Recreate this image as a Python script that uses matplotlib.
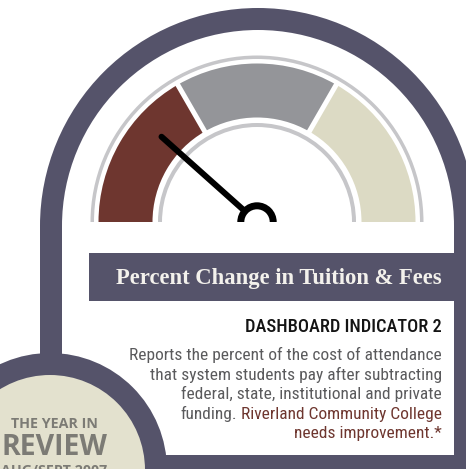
import matplotlib
matplotlib.use("Agg")
import matplotlib.pyplot as plt
from matplotlib.patches import Wedge, Rectangle, Circle
from matplotlib import font_manager as fm
import numpy as np

W, H = 466, 469

# ---- data ----
segment_labels = ["Needs improvement", "Meets goal", "Exceeds goal"]
segment_colors = ["#6e362f", "#949599", "#dcdac4"]
segment_bounds = [0.0, 1 / 3, 2 / 3, 1.0]
needle_value = 0.232
title = "Percent Change in Tuition & Fees"
indicator = "DASHBOARD INDICATOR 2"
body_lines = ["Reports the percent of the cost of attendance",
              "that system students pay after subtracting",
              "federal, state, institutional and private"]
body_gray_tail = "funding."
body_red = ["Riverland Community College", "needs improvement.*"]
badge_lines = ["THE YEAR IN", "REVIEW", "AUG/SEPT 2007"]

DARK = "#55536a"
RING = "#c6c6c9"
BADGE = "#e3e1ce"
BADGE_TXT = "#7c7b75"
BODY = "#5a5a5c"
RED = "#6e362f"

PT = 72 / 100.0  # points per pixel

installed = {f.name for f in fm.fontManager.ttflist}
narrow_pref = ["Liberation Sans Narrow", "Roboto Condensed", "Open Sans Condensed",
               "Noto Sans Condensed", "DejaVu Sans Condensed"]
narrow = [n for n in narrow_pref if n in installed] + ["Roboto", "DejaVu Sans"]


def Y(y):
    return H - y


fig = plt.figure(figsize=(W / 100, H / 100), dpi=100)
ax = fig.add_axes([0, 0, 1, 1])
ax.set_xlim(0, W)
ax.set_ylim(0, H)
ax.axis("off")
renderer = fig.canvas.get_renderer()


def fit(t, target_w):
    w = t.get_window_extent(renderer).width
    t.set_fontsize(t.get_fontsize() * target_w / w)
    return t.get_fontsize()


# ---- frame ----
ax.add_patch(Wedge((258, Y(226)), 218, 0, 180, width=22, color=DARK, lw=0))
ax.add_patch(Rectangle((40, Y(420)), 22, 420 - 226, color=DARK, lw=0))
ax.add_patch(Rectangle((454, -5), 40, Y(226) + 5, color=DARK, lw=0))
ax.add_patch(Rectangle((89, Y(300.5)), 400, 47.5, color=DARK, lw=0))
ax.add_patch(Rectangle((100, -5), 400, 469 - 455 + 5, color=DARK, lw=0))
ax.add_patch(Circle((50, Y(470)), 117, color=DARK, lw=0))
ax.add_patch(Circle((50, Y(470)), 95, color=BADGE, lw=0))

# ---- gauge ----
cx, cy = 257, Y(222)
ax.add_patch(Wedge((cx, cy), 166.5, 0, 180, width=3.5, color=RING, lw=0))
for i, col in enumerate(segment_colors):
    a0 = 180 * (1 - segment_bounds[i + 1])
    a1 = 180 * (1 - segment_bounds[i])
    ax.add_patch(Wedge((cx, cy), 158.5, a0, a1, width=54, color=col, lw=0))
for b in segment_bounds[1:-1]:
    a = np.deg2rad(180 * (1 - b))
    ax.plot([cx + 100 * np.cos(a), cx + 162 * np.cos(a)],
            [cy + 100 * np.sin(a), cy + 162 * np.sin(a)],
            color="white", lw=5 * PT, solid_capstyle="butt")
ax.add_patch(Wedge((cx, cy), 99, 0, 180, width=4, color=RING, lw=0))

na = np.deg2rad(180 * (1 - needle_value))
ax.plot([cx + 16 * np.cos(na), cx + 128 * np.cos(na)],
        [cy + 16 * np.sin(na), cy + 128 * np.sin(na)],
        color="black", lw=6 * PT, solid_capstyle="round")
ax.add_patch(Wedge((cx, cy), 19.7, 0, 180, width=7, color="black", lw=0))

# ---- texts ----
tt = ax.text(442, Y(284.3), title, ha="right", va="baseline",
             family=["Liberation Serif", "DejaVu Serif"], fontweight="bold",
             fontsize=15, color="#f3f1ec")
fit(tt, 326)

ti = ax.text(442, Y(331.7), indicator, ha="right", va="baseline", family=narrow,
             fontsize=12.7, fontweight="medium", color="#141414")
fit(ti, 196)

baselines = [360, 379.5, 399, 418.5, 438]
body_texts = []
for i, line in enumerate(body_lines):
    body_texts.append(ax.text(442, Y(baselines[i]), line, ha="right", va="baseline",
                              family=narrow, fontsize=11.7, color=BODY))
bsize = fit(body_texts[0], 310)
for t in body_texts[1:]:
    t.set_fontsize(bsize)
red1 = ax.text(442, Y(baselines[3]), body_red[0], ha="right", va="baseline",
               family=narrow, fontsize=bsize, color=RED)
ax.annotate(body_gray_tail, xy=(0, 0), xycoords=red1, xytext=(-4, 0),
            textcoords="offset pixels", ha="right", va="bottom",
            family=narrow, fontsize=bsize, color=BODY)
ax.text(442, Y(baselines[4]), body_red[1], ha="right", va="baseline",
        family=narrow, fontsize=bsize, color=RED)

badge_font = ["Open Sans", "DejaVu Sans"]
b0 = ax.text(54, Y(428.3), badge_lines[0], ha="center", va="baseline",
             family=badge_font, fontweight="bold", fontsize=9.5, color=BADGE_TXT)
fit(b0, 88)
b1 = ax.text(54.5, Y(454.5), badge_lines[1], ha="center", va="baseline",
             family=badge_font, fontweight="bold", fontsize=21, color=BADGE_TXT)
fit(b1, 106)
b2 = ax.text(54.5, Y(474.5), badge_lines[2], ha="center", va="baseline",
             family=badge_font, fontweight="bold", fontsize=10, color=BADGE_TXT)
fit(b2, 106)

fig.savefig("out.png", dpi=100)
